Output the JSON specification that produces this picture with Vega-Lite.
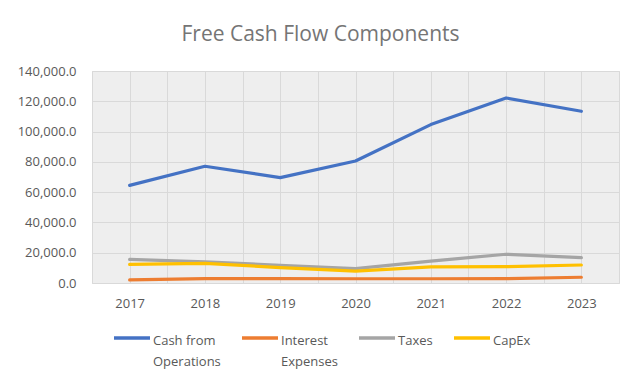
{
  "$schema": "https://vega.github.io/schema/vega-lite/v6.json",
  "autosize": "none",
  "width": 527,
  "height": 212,
  "padding": {"left": 92, "top": 71, "right": 21, "bottom": 102},
  "background": "white",
  "title": {
    "text": "Free Cash Flow Components",
    "font": "Open Sans",
    "fontSize": 21,
    "fontWeight": "normal",
    "color": "#757575",
    "anchor": "middle",
    "dx": -35,
    "offset": 20
  },
  "data": {
    "values": [
      {"year": 2017, "series": "Cash from Operations", "value": 64500},
      {"year": 2018, "series": "Cash from Operations", "value": 77100},
      {"year": 2019, "series": "Cash from Operations", "value": 69600},
      {"year": 2020, "series": "Cash from Operations", "value": 80600},
      {"year": 2021, "series": "Cash from Operations", "value": 104600},
      {"year": 2022, "series": "Cash from Operations", "value": 122200},
      {"year": 2023, "series": "Cash from Operations", "value": 113400},
      {"year": 2017, "series": "Interest Expenses", "value": 2000},
      {"year": 2018, "series": "Interest Expenses", "value": 2900},
      {"year": 2019, "series": "Interest Expenses", "value": 2900},
      {"year": 2020, "series": "Interest Expenses", "value": 2800},
      {"year": 2021, "series": "Interest Expenses", "value": 2800},
      {"year": 2022, "series": "Interest Expenses", "value": 2900},
      {"year": 2023, "series": "Interest Expenses", "value": 3800},
      {"year": 2017, "series": "Taxes", "value": 15600},
      {"year": 2018, "series": "Taxes", "value": 13900},
      {"year": 2019, "series": "Taxes", "value": 11700},
      {"year": 2020, "series": "Taxes", "value": 9500},
      {"year": 2021, "series": "Taxes", "value": 14500},
      {"year": 2022, "series": "Taxes", "value": 19000},
      {"year": 2023, "series": "Taxes", "value": 16800},
      {"year": 2017, "series": "CapEx", "value": 12300},
      {"year": 2018, "series": "CapEx", "value": 13000},
      {"year": 2019, "series": "CapEx", "value": 10200},
      {"year": 2020, "series": "CapEx", "value": 7900},
      {"year": 2021, "series": "CapEx", "value": 10600},
      {"year": 2022, "series": "CapEx", "value": 10800},
      {"year": 2023, "series": "CapEx", "value": 11900}
    ]
  },
  "mark": {"type": "line", "strokeWidth": 3.2, "strokeCap": "round", "strokeJoin": "round"},
  "encoding": {
    "x": {
      "field": "year",
      "type": "quantitative",
      "scale": {"domain": [2016.5, 2023.5], "nice": false, "zero": false},
      "axis": {
        "title": null,
        "values": [2016.5, 2017, 2017.5, 2018, 2018.5, 2019, 2019.5, 2020, 2020.5, 2021, 2021.5, 2022, 2022.5, 2023, 2023.5],
        "labelExpr": "datum.value % 1 == 0 ? format(datum.value, 'd') : ''",
        "domain": false,
        "ticks": false,
        "grid": true,
        "gridColor": "#d9d9d9",
        "gridWidth": 1,
        "labelFont": "Open Sans",
        "labelFontSize": 13,
        "labelColor": "#595959",
        "labelPadding": 14,
        "labelFlush": false
      }
    },
    "y": {
      "field": "value",
      "type": "quantitative",
      "scale": {"domain": [0, 140000], "nice": false},
      "axis": {
        "title": null,
        "values": [0, 20000, 40000, 60000, 80000, 100000, 120000, 140000],
        "format": ",.1f",
        "domain": false,
        "ticks": false,
        "grid": true,
        "gridColor": "#d9d9d9",
        "gridWidth": 1,
        "labelFont": "Open Sans",
        "labelFontSize": 13,
        "labelColor": "#595959",
        "labelPadding": 16
      }
    },
    "color": {
      "field": "series",
      "type": "nominal",
      "sort": ["Cash from Operations", "Interest Expenses", "Taxes", "CapEx"],
      "scale": {
        "domain": ["Cash from Operations", "Interest Expenses", "Taxes", "CapEx"],
        "range": ["#4472C4", "#ED7D31", "#A5A5A5", "#FFC000"]
      },
      "legend": {
        "title": null,
        "orient": "none",
        "direction": "horizontal",
        "legendX": 20,
        "legendY": 247,
        "symbolType": "stroke",
        "symbolSize": 1296,
        "symbolStrokeWidth": 3.5,
        "labelFont": "Open Sans",
        "labelFontSize": 13,
        "labelColor": "#595959",
        "labelOffset": 1,
        "labelBaseline": "top",
        "columnPadding": 14,
        "labelExpr": "datum.label == 'Cash from Operations' ? ['Cash from', 'Operations'] : datum.label == 'Interest Expenses' ? ['Interest', 'Expenses'] : [datum.label, '']",
        "labelLimit": 200,
        "encode": {
          "labels": {"update": {"lineHeight": {"value": 21}, "dy": {"value": -3}}}
        }
      }
    }
  },
  "config": {
    "view": {"fill": "#eeeeee", "stroke": "#d9d9d9", "strokeWidth": 1}
  }
}
